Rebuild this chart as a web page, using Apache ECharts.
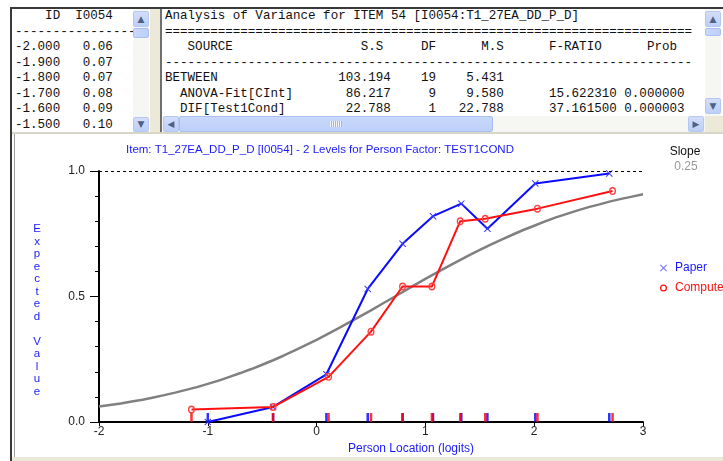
<!DOCTYPE html>
<html>
<head>
<meta charset="utf-8">
<script src="https://cdn.jsdelivr.net/npm/echarts@6/dist/echarts.min.js"></script>
<style>
  html, body { margin:0; padding:0; }
  body { width:723px; height:461px; overflow:hidden; background:#fff; position:relative; }
  #chart { position:absolute; left:0; top:0; width:723px; height:461px; }
  .abs { position:absolute; box-sizing:border-box; }
  pre.mono { position:absolute; margin:0; font-family:"Liberation Mono","DejaVu Sans Mono",monospace; font-size:12.55px; line-height:15.5px; color:#111; overflow:hidden; white-space:pre; }
  .btn { position:absolute; box-sizing:border-box; background:linear-gradient(#d3def9,#bccff8); border:1px solid #b4c8f3; border-radius:2px; color:#4d6185; font:9px "DejaVu Sans",sans-serif; text-align:center; }
  .thumb { position:absolute; box-sizing:border-box; background:linear-gradient(90deg,#c9d8fb,#bdd0f9); border:1px solid #a9bff0; border-radius:2px; }
  .track { position:absolute; background:#f6f6f2; }
</style>
</head>
<body>
<div id="chart"></div>
<div id="panels"></div>
<script>
// ---------------- data ----------------
const curveX = [-2.0,-1.9,-1.8,-1.7,-1.6,-1.5,-1.4,-1.3,-1.2,-1.1,-1.0,-0.9,-0.8,-0.7,-0.6,-0.5,-0.4,-0.3,-0.2,-0.1,
  0.0,0.1,0.2,0.3,0.4,0.5,0.6,0.7,0.8,0.9,1.0,1.1,1.2,1.3,1.4,1.5,1.6,1.7,1.8,1.9,
  2.0,2.1,2.2,2.3,2.4,2.5,2.6,2.7,2.8,2.9,3.0];
const curveY = [0.062,0.068,0.074,0.082,0.089,0.098,0.107,0.117,0.128,0.139,0.152,0.165,0.180,0.195,0.211,0.228,0.246,0.265,0.285,0.306,
  0.327,0.350,0.373,0.397,0.421,0.445,0.470,0.495,0.520,0.545,0.570,0.594,0.618,0.641,0.664,0.686,0.707,0.727,0.746,0.765,
  0.782,0.799,0.815,0.829,0.843,0.856,0.867,0.879,0.889,0.898,0.907];
const paperX = [-1.00,-0.40,0.09,0.47,0.79,1.07,1.33,1.57,2.01,2.69];
const paperY = [0.00,0.06,0.19,0.53,0.71,0.82,0.87,0.77,0.95,0.99];
const compX  = [-1.15,-0.40,0.11,0.50,0.79,1.06,1.32,1.55,2.03,2.72];
const compY  = [0.05,0.06,0.18,0.36,0.54,0.54,0.80,0.81,0.85,0.92];
const xTicks = [-2,-1,0,1,2,3];
const yTickLabels = ['0.0','0.5','1.0'];
const seriesNames = ['Paper','Computer'];
const titleText = 'Item: T1_27EA_DD_P_D [I0054] - 2 Levels for Person Factor: TEST1COND';
const xName = 'Person Location (logits)';
const yName = 'Expected Value';
const slopeLabel = 'Slope';
const slopeValue = '0.25';

// text panels
const listHeader = ['    ID  I0054', '-----------------'];
const listIds = ['-2.000','-1.900','-1.800','-1.700','-1.600','-1.500'];
const listVals = ['0.06','0.07','0.07','0.08','0.09','0.10'];
const anovaTitle = 'Analysis of Variance for ITEM 54 [I0054:T1_27EA_DD_P_D]';
const anovaHead = ['SOURCE','S.S','DF','M.S','F-RATIO','Prob'];
const anovaRows = [
  ['BETWEEN','103.194','19','5.431','',''],
  ['  ANOVA-Fit[CInt]','86.217','9','9.580','15.622310','0.000000'],
  ['  DIF[Test1Cond]','22.788','1','22.788','37.161500','0.000003']
];

// ---------------- panels (HTML) ----------------
(function(){
  const p = document.getElementById('panels');
  function el(cls, css, html){ const d=document.createElement('div'); d.className=cls; d.style.cssText=css; if(html!==undefined) d.innerHTML=html; p.appendChild(d); return d; }
  el('abs','left:0;top:0;width:723px;height:133px;background:#fff;');
  el('abs','left:10px;top:7px;width:713px;height:2px;background:#3a3a3a;');
  el('abs','left:10px;top:7px;width:2px;height:454px;background:#3a3a3a;');
  el('abs','left:14px;top:133px;width:1px;height:328px;background:#a0a0a0;');
  const pre1 = document.createElement('pre'); pre1.className='mono';
  pre1.style.cssText='left:15px;top:9px;width:118px;height:123px;';
  pre1.textContent = listHeader.concat(listIds.map((id,i)=>id+'   '+listVals[i])).join('\n');
  p.appendChild(pre1);
  el('track','left:133px;top:9px;width:16px;height:124px;');
  el('btn','left:133px;top:11px;width:16px;height:16px;line-height:14px;','&#9650;');
  el('thumb','left:133px;top:28px;width:16px;height:10px;');
  el('btn','left:133px;top:117px;width:16px;height:15px;line-height:13px;','&#9660;');
  el('abs','left:150px;top:9px;width:10px;height:124px;background:#ece9d8;');
  el('abs','left:160px;top:9px;width:2px;height:124px;background:#6f6f6f;');
  const head = ('   '+anovaHead[0]).padEnd(22) + anovaHead[1].padStart(7) + anovaHead[2].padStart(7) +
    anovaHead[3].padStart(9) + '      ' + anovaHead[4] + anovaHead[5].padStart(10);
  const rows = anovaRows.map(r => (r[0].padEnd(22) + r[1].padStart(8) + r[2].padStart(6) + r[3].padStart(9) +
    (r[4] ? r[4].padStart(15) : '') + (r[5] ? r[5].padStart(9) : '')));
  const pre2 = document.createElement('pre'); pre2.className='mono';
  pre2.style.cssText='left:165px;top:9px;width:538px;height:106px;';
  pre2.textContent = [anovaTitle, '='.repeat(70), head, '-'.repeat(70)].concat(rows).join('\n');
  p.appendChild(pre2);
  el('track','left:705px;top:9px;width:16px;height:107px;');
  el('btn','left:705px;top:11px;width:16px;height:16px;line-height:14px;','&#9650;');
  el('thumb','left:705px;top:28px;width:16px;height:8px;');
  el('btn','left:705px;top:98px;width:16px;height:16px;line-height:14px;','&#9660;');
  el('track','left:162px;top:116px;width:543px;height:16px;');
  el('btn','left:163px;top:116px;width:16px;height:16px;line-height:14px;','&#9664;');
  el('thumb','left:179px;top:116px;width:314px;height:16px;background:linear-gradient(#c9d8fb,#bdd0f9);');
  el('abs','left:330px;top:121px;width:12px;height:6px;background:repeating-linear-gradient(90deg,#eef3fd 0 1px,#9fb6e8 1px 2px);');
  el('btn','left:688px;top:116px;width:16px;height:16px;line-height:14px;','&#9654;');
  el('abs','left:705px;top:116px;width:18px;height:17px;background:#ece9d8;');
  el('abs','left:12px;top:132px;width:711px;height:2px;background:#d8d6c8;');
  el('abs','left:12px;top:457px;width:711px;height:4px;background:#ece9d8;');
})();

// ---------------- chart ----------------
const BLUE = '#1a1aff';
const RED = '#ff1010';
const xPath = 'path://M0,1L1,0L5,4L9,0L10,1L6,5L10,9L9,10L5,6L1,10L0,9L4,5Z';
const ringPath = 'path://M5,0A5,5 0 1,1 5,10A5,5 0 1,1 5,0ZM5,1.8A3.2,3.2 0 1,0 5,8.2A3.2,3.2 0 1,0 5,1.8Z';
const FONT = '"Liberation Sans", Arial, sans-serif';

const yLetters = yName.split('').map((ch, i) => ({
  type:'text', x:37, y:229 + i*12.5,
  style:{text:ch, fill:BLUE, font:'11.5px '+FONT, align:'center', verticalAlign:'middle'}
}));

const chart = echarts.init(document.getElementById('chart'), null, {renderer:'canvas'});
chart.setOption({
  animation:false,
  backgroundColor:'#fff',
  textStyle:{fontFamily:FONT},
  title:{text:titleText, left:126, top:144, padding:0,
    textStyle:{fontSize:11.5, color:BLUE, fontWeight:'normal', fontFamily:FONT}},
  grid:{left:99, right:80, top:171, bottom:39},
  legend:{orient:'vertical', left:655, top:257, itemWidth:7, itemHeight:7, itemGap:8,
    selectedMode:false,
    textStyle:{fontSize:12, fontFamily:FONT, padding:[0,0,0,3]},
    data:[
      {name:seriesNames[0], icon:xPath, itemStyle:{color:'#7070ff'}, textStyle:{color:BLUE}},
      {name:seriesNames[1], icon:ringPath, itemStyle:{color:RED}, textStyle:{color:RED}}
    ]},
  xAxis:{type:'value', min:xTicks[0], max:xTicks[xTicks.length-1], interval:1,
    axisLine:{onZero:false, lineStyle:{color:'#000', width:2}},
    axisTick:{length:4, lineStyle:{color:'#000', width:1}},
    axisLabel:{color:'#222', fontSize:12, margin:4, fontFamily:FONT},
    splitLine:{show:false}},
  yAxis:{type:'value', min:0, max:1, interval:0.5,
    axisLine:{show:true, onZero:false, lineStyle:{color:'#000', width:2}},
    axisTick:{show:true, length:9, lineStyle:{color:'#000', width:1}},
    minorTick:{show:true, splitNumber:5, length:4, lineStyle:{color:'#000', width:1}},
    axisLabel:{color:'#222', fontSize:12, margin:14, fontFamily:FONT,
      formatter:(v)=>yTickLabels[Math.round(v*2)]},
    splitLine:{show:false}},
  graphic: yLetters.concat([
    {type:'text', x:411, y:449, style:{text:xName, fill:BLUE, font:'12px '+FONT, align:'center', verticalAlign:'middle'}},
    {type:'text', x:685, y:152, style:{text:slopeLabel, fill:'#111', font:'12px '+FONT, align:'center', verticalAlign:'middle'}},
    {type:'text', x:686, y:167, style:{text:slopeValue, fill:'#999', font:'12px '+FONT, align:'center', verticalAlign:'middle'}}
  ]),
  series:[
    {name:'ICC', type:'line', data:curveX.map((x,i)=>[x,curveY[i]]), showSymbol:false, symbol:'none',
      lineStyle:{color:'#808080', width:2.5}, z:1, silent:true,
      markLine:{silent:true, symbol:'none', label:{show:false},
        lineStyle:{color:'#000', width:1, type:[3,3]}, data:[{yAxis:1}]}},
    {name:seriesNames[0], type:'line', data:paperX.map((x,i)=>[x,paperY[i]]),
      symbol:xPath, symbolSize:7, itemStyle:{color:'#3a3aff'},
      lineStyle:{color:'#0a0aff', width:2}, z:2, clip:false},
    {name:seriesNames[1], type:'line', data:compX.map((x,i)=>[x,compY[i]]),
      symbol:ringPath, symbolSize:[7,8], itemStyle:{color:'#ff4040'},
      lineStyle:{color:RED, width:2}, z:3, clip:false},
    {name:'paperRug', type:'scatter', data:paperX.map(x=>[x,0]), symbol:'rect',
      symbolSize:[2.5,9], symbolOffset:[0,-4.5], itemStyle:{color:'#0000ff'}, z:4, silent:true},
    {name:'compRug', type:'scatter', data:compX.map(x=>[x,0]), symbol:'rect',
      symbolSize:[2.5,9], symbolOffset:[0,-4.5], itemStyle:{color:'#ff0000'}, z:4, silent:true}
  ]
});
</script>
</body>
</html>
